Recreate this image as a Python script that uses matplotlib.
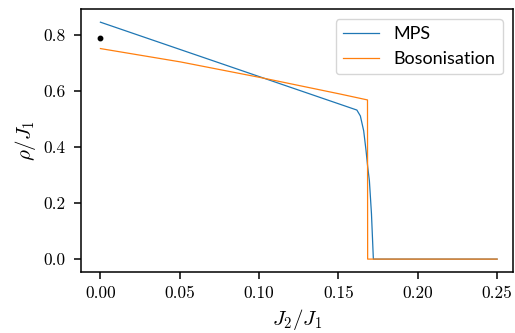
import matplotlib
matplotlib.use("Agg")
import matplotlib.pyplot as plt

# MPS density vs J2/J1
mps_x = [0.0, 0.1616, 0.1638, 0.1659, 0.1674, 0.1684, 0.1695, 0.1708, 0.172, 0.25]
mps_y = [0.844, 0.531, 0.51, 0.457, 0.386, 0.33, 0.279, 0.162, 0.0, 0.0]

# Bosonisation prediction
bos_x = [0.0, 0.0504, 0.1007, 0.1511, 0.1683, 0.1684, 0.25]
bos_y = [0.750, 0.7025, 0.647, 0.588, 0.567, 0.0, 0.0]

# single reference point
dot_x = [0.0]
dot_y = [0.788]

plt.rcParams.update({
    "font.family": "serif",
    "font.serif": ["cmr10", "DejaVu Serif"],
    "mathtext.fontset": "cm",
    "axes.formatter.use_mathtext": True,
    "font.size": 12.5,
    "axes.linewidth": 1.1,
    "xtick.major.size": 5.3,
    "ytick.major.size": 5.3,
    "xtick.major.width": 1.1,
    "ytick.major.width": 1.1,
    "xtick.major.pad": 5,
    "ytick.major.pad": 5.5,
})

fig = plt.figure(figsize=(5.15, 3.33), dpi=100)
ax = fig.add_axes([0.1565, 0.184, 0.839, 0.789])
ax.plot(mps_x, mps_y, color="tab:blue", lw=0.9, label="MPS")
ax.plot(bos_x, bos_y, color="tab:orange", lw=0.9, label="Bosonisation")
ax.plot(dot_x, dot_y, "ko", ms=3.2)

ax.set_xticks([0.0, 0.05, 0.10, 0.15, 0.20, 0.25])
ax.set_xticklabels(["0.00", "0.05", "0.10", "0.15", "0.20", "0.25"])
ax.set_yticks([0.0, 0.2, 0.4, 0.6, 0.8])
ax.set_yticklabels(["0.0", "0.2", "0.4", "0.6", "0.8"])
ax.set_xlim(-0.0125, 0.2598)
ax.set_ylim(-0.045, 0.891)
ax.set_xlabel(r"$J_2/J_1$", fontsize=15)
ax.set_ylabel(r"$\rho/J_1$", fontsize=15)
ax.legend(loc="upper right", prop={"family": "Lato", "size": 13},
          borderaxespad=0.55)

fig.savefig("out.png", dpi=100)
